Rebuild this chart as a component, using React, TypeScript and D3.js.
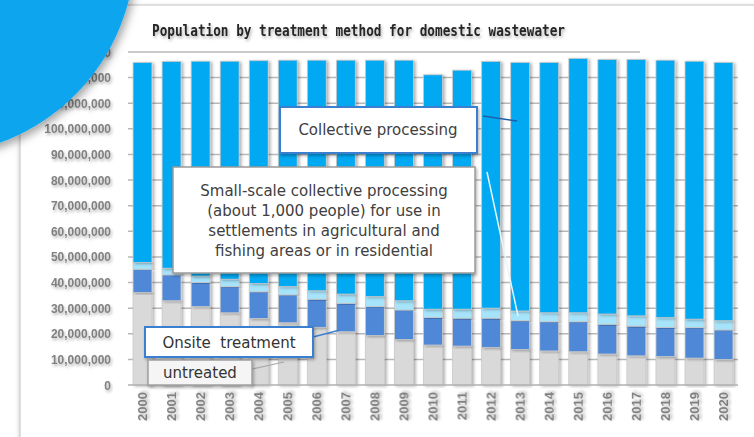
import React from "react";
import * as d3 from "d3";

const years = ["2000","2001","2002","2003","2004","2005","2006","2007","2008","2009","2010","2011","2012","2013","2014","2015","2016","2017","2018","2019","2020"];
// values in millions of people
const untreated = [36.1,32.9,30.6,28.2,26.0,24.3,22.5,20.8,19.3,17.8,15.6,15.2,14.7,13.9,13.3,13.0,12.1,11.4,11.1,10.5,10.0];
const onsite = [9.1,10.1,9.4,10.2,10.4,10.9,11.0,11.1,11.3,11.5,10.8,10.9,11.4,11.2,11.4,11.7,11.6,11.6,11.4,11.9,11.5];
const smallScale = [2.6,2.6,2.5,2.9,3.2,3.2,3.3,3.6,3.9,3.6,3.2,3.5,3.9,3.8,3.5,3.5,4.0,4.0,3.8,3.3,3.6];
const collective = [78.1,80.7,83.9,85.1,87.0,88.4,90.0,91.3,92.3,93.9,91.5,93.3,96.3,97.0,97.7,99.3,99.4,100.1,100.5,100.7,100.8];
const yTicks = [0,10,20,30,40,50,60,70,80,90,100,110,120,130];
const seriesKeys = ["untreated","onsite","smallScale","collective"];
const seriesColors = ["#d9d9d9","#4f88d6","#a6e4fb","#03a9f2"];
const title = "Population by treatment method for domestic wastewater";
const smallLabel = ["Small-scale collective processing","(about 1,000 people) for use in","settlements in agricultural and","fishing areas or in residential"];

export default function App() {
  const rows = years.map((y, i) => ({
    year: y,
    untreated: untreated[i],
    onsite: onsite[i],
    smallScale: smallScale[i],
    collective: collective[i],
  }));
  const stack = d3.stack<any>().keys(seriesKeys)(rows);
  const x = d3.scaleBand().domain(years).range([128, 738]).paddingInner(0.35).paddingOuter(0.174);
  const y = d3.scaleLinear().domain([0, 130]).range([385, 52]);
  const fmt = d3.format(",");
  const sans = "'DejaVu Sans', Verdana, sans-serif";

  return (
    <svg width={754} height={437} style={{ position: "absolute", left: 0, top: 0 }}>
      <defs>
        <filter id="ts" x="-20%" y="-50%" width="140%" height="200%">
          <feDropShadow dx="1.2" dy="2" stdDeviation="1.4" floodColor="#000" floodOpacity="0.3" />
        </filter>
        <filter id="bs" x="-30%" y="-10%" width="160%" height="120%">
          <feDropShadow dx="2" dy="1" stdDeviation="1.4" floodColor="#000" floodOpacity="0.3" />
        </filter>
        <filter id="cs" x="-20%" y="-20%" width="150%" height="150%">
          <feDropShadow dx="3" dy="4" stdDeviation="4" floodColor="#000" floodOpacity="0.35" />
        </filter>
        <filter id="card" x="-10%" y="-10%" width="120%" height="120%">
          <feDropShadow dx="0" dy="2" stdDeviation="2" floodColor="#000" floodOpacity="0.25" />
        </filter>
      </defs>
      <rect x={0} y={0} width={754} height={437} fill="#ffffff" />
      <rect x={20} y={5} width={780} height={470} fill="#ffffff" stroke="#c4c4c4" strokeWidth={1} filter="url(#card)" />

      {/* title */}
      <text x={152} y={36} fontFamily="'DejaVu Sans Mono', monospace" fontWeight="bold" fontSize={15.5} fill="#262626"
        textLength={413} lengthAdjust="spacingAndGlyphs" filter="url(#ts)">{title}</text>

      {/* gridlines */}
      {yTicks.filter(t => t > 0).map(t => (
        <line key={t} x1={128} x2={t === 130 ? 640 : 738} y1={y(t)} y2={y(t)} stroke="#b8b8b8" strokeWidth={1.5} />
      ))}

      {/* y labels */}
      {yTicks.map(t => (
        <text key={t} x={111} y={y(t) + 4.5} textAnchor="end" fontFamily="'Liberation Sans', Arial, sans-serif"
          fontWeight="bold" fontSize={12} fill="#808080" filter="url(#ts)">{fmt(t * 1000000)}</text>
      ))}

      {/* bars */}
      {stack.map((s, si) => (
        <g key={s.key} fill={seriesColors[si]}>
          {s.map((d: any, i: number) => (
            <rect key={i} x={x(years[i])} width={x.bandwidth()} y={y(d[1])} height={y(d[0]) - y(d[1])}
              stroke="#c9c9c9" strokeWidth={0.8} filter="url(#bs)" />
          ))}
        </g>
      ))}

      {/* axis */}
      <line x1={128} x2={738} y1={385} y2={385} stroke="#b0b0b0" strokeWidth={1.5} />

      {/* x labels */}
      {years.map(yr => {
        const cx = (x(yr) as number) + x.bandwidth() / 2;
        return (
          <text key={yr} transform={`translate(${cx + 4.5},392) rotate(-90)`} textAnchor="end"
            fontFamily="'Liberation Sans', Arial, sans-serif" fontWeight="bold" fontSize={13} fill="#808080"
            filter="url(#ts)">{yr}</text>
        );
      })}

      {/* leader lines */}
      <line x1={483} y1={116} x2={517} y2={121} stroke="#1f5fa8" strokeWidth={1.5} />
      <line x1={487} y1={172} x2={518} y2={316} stroke="#e6f6fd" strokeWidth={1.5} />
      <line x1={313} y1={337} x2={340} y2={330} stroke="#3a7fd0" strokeWidth={1.5} />
      <line x1={252} y1={369} x2={284} y2={362} stroke="#a8a8a8" strokeWidth={1.2} />

      {/* annotation: collective */}
      <rect x={280} y={107} width={197} height={46} fill="#ffffff" stroke="#3a7fd0" strokeWidth={2} filter="url(#ts)" />
      <text x={378} y={135} textAnchor="middle" fontFamily={sans} fontSize={15} fill="#404040">Collective processing</text>

      {/* annotation: small scale */}
      <rect x={173} y={167} width={302} height={106} fill="#ffffff" stroke="#9a9a9a" strokeWidth={1.5} filter="url(#ts)" />
      {smallLabel.map((l, i) => (
        <text key={i} x={324} y={196 + i * 20} textAnchor="middle" fontFamily={sans} fontSize={15} fill="#404040">{l}</text>
      ))}

      {/* annotation: onsite */}
      <rect x={145} y={327} width={168} height={30} fill="#ffffff" stroke="#3a7fd0" strokeWidth={2} filter="url(#ts)" />
      <text x={229} y={348} textAnchor="middle" fontFamily={sans} fontSize={15} fill="#333333" xmlSpace="preserve">Onsite  treatment</text>

      {/* annotation: untreated */}
      <rect x={148} y={360} width={104} height={25} fill="#f5f5f5" stroke="#a0a0a0" strokeWidth={1.5} filter="url(#ts)" />
      <text x={200} y={378} textAnchor="middle" fontFamily={sans} fontSize={15} fill="#333333">untreated</text>

      {/* decorative circle */}
      <circle cx={-70} cy={-50} r={205} fill="#0aa6ee" filter="url(#cs)" />
    </svg>
  );
}
